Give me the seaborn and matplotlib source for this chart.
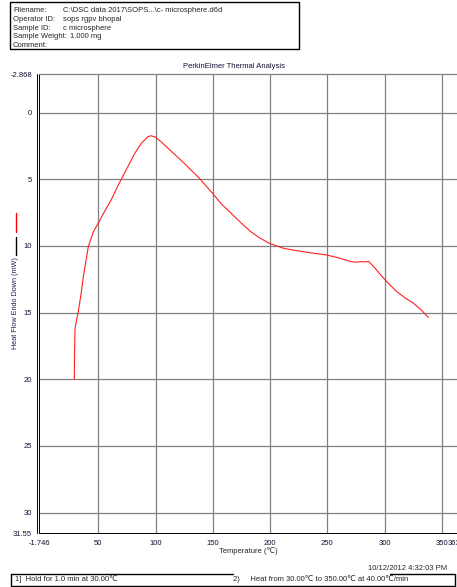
import numpy as np
import pandas as pd
import matplotlib
matplotlib.use('Agg')
import matplotlib.pyplot as plt
from matplotlib.lines import Line2D
from matplotlib.patches import Rectangle
import seaborn as sns

# ─── Data ─────────────────────────────────────────────────────────────────────
temperature = [29.1, 29.3, 29.7, 31.0, 32.6, 35.0, 37.0, 41.3, 45.7, 50.0,
               55.0, 61.6, 67.4, 75.0, 81.6, 87.7, 93.5, 96.3, 100.0, 105.0,
               115.0, 125.0, 138.0, 150.0, 158.0, 165.9, 175.0, 183.3, 190.0,
               199.2, 212.3, 230.0, 250.0, 260.0, 270.3, 274.0, 277.0, 280.0,
               283.0, 286.0, 289.1, 294.0, 299.2, 305.0, 310.9, 318.0, 325.3,
               332.0, 338.3]
heat_flow = [20.0, 18.0, 16.2, 15.6, 14.9, 13.6, 12.3, 10.07, 8.94, 8.3,
             7.5, 6.5, 5.45, 4.2, 3.1, 2.3, 1.8, 1.74, 1.85, 2.2,
             3.0, 3.8, 4.9, 6.07, 6.9, 7.54, 8.3, 8.94, 9.35,
             9.8, 10.19, 10.45, 10.69, 10.9, 11.17, 11.22, 11.2, 11.18,
             11.2, 11.16, 11.42, 11.9, 12.43, 12.95, 13.44, 13.9, 14.3,
             14.8, 15.36]

x_ticks = [-1.746, 50, 100, 150, 200, 250, 300, 350, 363.3]
x_labels = ['-1.746', '50', '100', '150', '200', '250', '300', '350', '363.3']
y_ticks = [-2.868, 0, 5, 10, 15, 20, 25, 30, 31.55]
y_labels = ['-2.868', '0', '5', '10', '15', '20', '25', '30', '31.55']

header_keys = ['Filename:', 'Operator ID:', 'Sample ID:', 'Sample Weight:', 'Comment:']
header_vals = ['C:\\DSC data 2017\\SOPS...\\c- microsphere.d6d', 'sops rgpv bhopal',
               'c microsphere', '1.000 mg', '']

# ─── Style ────────────────────────────────────────────────────────────────────
sns.set_style('white')
plt.rcParams['font.family'] = ['Liberation Sans', 'DejaVu Sans']
FS = 5.5

W, H = 457, 587
fig = plt.figure(figsize=(W / 100, H / 100), dpi=100)
ax = fig.add_axes([39.0 / W, 1 - 533.3 / H, 1 - 39.0 / W, (533.3 - 74.3) / H])

df = pd.DataFrame({'Temperature': temperature, 'Heat Flow': heat_flow})
sns.lineplot(data=df, x='Temperature', y='Heat Flow', ax=ax, color='#ff2020',
             linewidth=0.8, sort=False, estimator=None, zorder=5)

ax.set_xlim(-1.746, 363.3)
ax.set_ylim(31.55, -2.868)
ax.set_xticks(x_ticks)
ax.set_xticklabels(x_labels)
ax.set_yticks(y_ticks)
ax.set_yticklabels(y_labels)
ax.tick_params(axis='both', direction='out', length=4, width=0.7,
               color='black', labelsize=FS, labelcolor='#111133', pad=1)

# grid lines, skip the end values
for xv in x_ticks[1:-1]:
    ax.axvline(xv, color='#808080', linewidth=0.9, zorder=1)
for yv in y_ticks[1:-1]:
    ax.axhline(yv, color='#808080', linewidth=0.9, zorder=1)

for side in ['left', 'bottom']:
    ax.spines[side].set_color('black')
    ax.spines[side].set_linewidth(0.7)
ax.spines['top'].set_color('#808080')
ax.spines['top'].set_linewidth(0.9)
ax.spines['right'].set_visible(False)

# second line of the double left axis
fig.add_artist(Line2D([37.0 / W, 37.0 / W], [1 - 533.3 / H, 1 - 74.3 / H],
                      color='black', linewidth=0.7))

ax.set_xlabel('Temperature (℃)', fontsize=FS, labelpad=0)
ax.set_ylabel('')

# y label with the legend strokes
fig.text(16 / W, 1 - 303 / H, 'Heat Flow Endo Down (mW)', rotation=90,
         ha='center', va='center', fontsize=5.2, color='#202050')
fig.add_artist(Line2D([16 / W, 16 / W], [1 - 213 / H, 1 - 232 / H],
                      color='red', linewidth=1))
fig.add_artist(Line2D([16 / W, 16 / W], [1 - 237 / H, 1 - 255 / H],
                      color='black', linewidth=1))

fig.text(234 / W, 1 - 66 / H, 'PerkinElmer Thermal Analysis',
         ha='center', va='center', fontsize=FS, color='#111133')

# ─── Header box ───────────────────────────────────────────────────────────────
fig.add_artist(Rectangle((10 / W, 1 - 48.5 / H), 289 / W, 46 / H,
                         fill=False, edgecolor='black', linewidth=1))
for i, (k, v) in enumerate(zip(header_keys, header_vals)):
    yy = 1 - (10.7 + i * 8.75) / H
    fig.text(13 / W, yy, k, ha='left', va='center', fontsize=FS)
    vx = 70 / W if k == 'Sample Weight:' else 63 / W
    fig.text(vx, yy, v, ha='left', va='center', fontsize=FS)

# ─── Footer ───────────────────────────────────────────────────────────────────
fig.text(447 / W, 1 - 568.5 / H, '10/12/2012 4:32:03 PM',
         ha='right', va='center', fontsize=FS)
box_top, box_bot = 1 - 574 / H, 1 - 586 / H
for xs, ys in [([11, 11], [box_top, box_bot]), ([455, 455], [box_top, box_bot]),
               ([11, 455], [box_bot, box_bot]), ([11, 233], [box_top, box_top]),
               ([390, 455], [box_top, box_top])]:
    fig.add_artist(Line2D([x / W for x in xs], ys, color='black', linewidth=1))
fig.text(15 / W, 1 - 579.5 / H, '1]  Hold for 1.0 min at 30.00℃',
         ha='left', va='center', fontsize=FS)
fig.text(233 / W, 1 - 579.5 / H, '2)     Heat from 30.00℃ to 350.00℃ at 40.00℃/min',
         ha='left', va='center', fontsize=FS)

fig.savefig('out.png', dpi=100)
